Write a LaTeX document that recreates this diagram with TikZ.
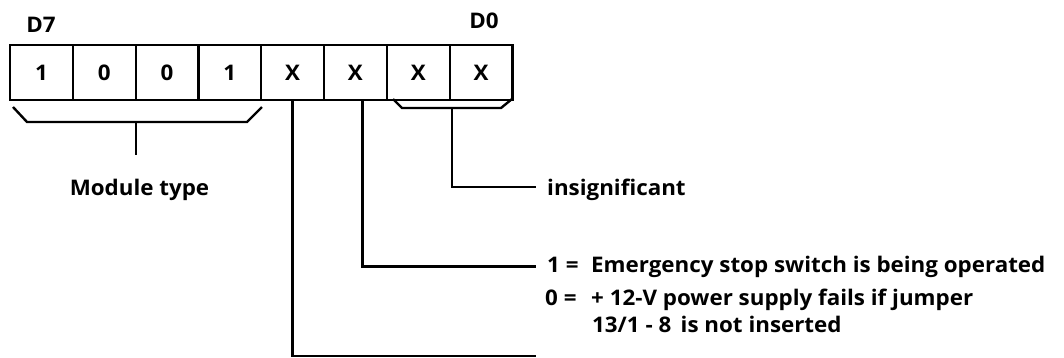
\documentclass[tikz,border=0pt]{standalone}
\usepackage{fontspec}
\setmainfont{Open Sans}[FakeStretch=1.15, BoldFeatures={FakeStretch=1.04}]
\usetikzlibrary{positioning}

\begin{document}
\begin{tikzpicture}[x=1pt, y=-1pt,
    bitcell/.style={draw, line width=2.2pt, minimum width=62.8pt, minimum height=55pt,
      inner sep=0pt, font=\fontsize{21.5}{27}\selectfont\bfseries},
    lbl/.style={inner sep=0pt, font=\fontsize{21.5}{27}\selectfont\bfseries},
    wire/.style={line width=2.4pt}]
  \useasboundingbox (0,0) rectangle (1064,357);

  % status byte D7 ... D0
  \foreach \v [count=\i] in {1,0,0,1,X,X,X,X} {
    \pgfmathtruncatemacro{\bit}{8-\i}
    \node[bitcell] (b\bit) at ({10+62.8*(\i-0.5)}, 72.5) {\v};
  }
  \node[lbl, anchor=base] (d7) at (41,32) {D7};
  \node[lbl, anchor=base] (d0) at (484,28) {D0};

  % bracket under D7..D4
  \draw[wire] (13,107) -- (27,122) -- (247,122) -- (262,107);
  \coordinate (typebr) at (136,122);
  \node[lbl, anchor=base] (modtype) at (139.5,195) {Module type};
  \draw[wire] (typebr) -- ++(0,33);

  % bracket under D1..D0
  \draw[wire] (393,99) -- (402,108) -- (501,108) -- (512,99);
  \coordinate (lowbr) at (452,108);
  \node[lbl, anchor=base west] (insig) at (547,195) {insignificant};
  \draw[wire] (lowbr) |- ([xshift=-11]insig.west |- 0,187);

  % D2
  \node[lbl, anchor=base west] (emerg) at (547,272)
    {\makebox[44pt][l]{1 =}Emergency stop switch is being operated};
  \node[lbl, anchor=north west, align=left] (power) at (545,289)
    {\makebox[44pt][l]{0 =}\hspace{2pt}+ 12-V power supply fails if jumper\\
     \hspace{47pt}13/1 - 8\, is not inserted};
  \draw[wire] ([xshift=7]b2.south) |- ([xshift=-11]emerg.west);

  % D3
  \coordinate (d3end) at (536,356);
  \draw[wire] (b3.south) |- (d3end);
\end{tikzpicture}
\end{document}
